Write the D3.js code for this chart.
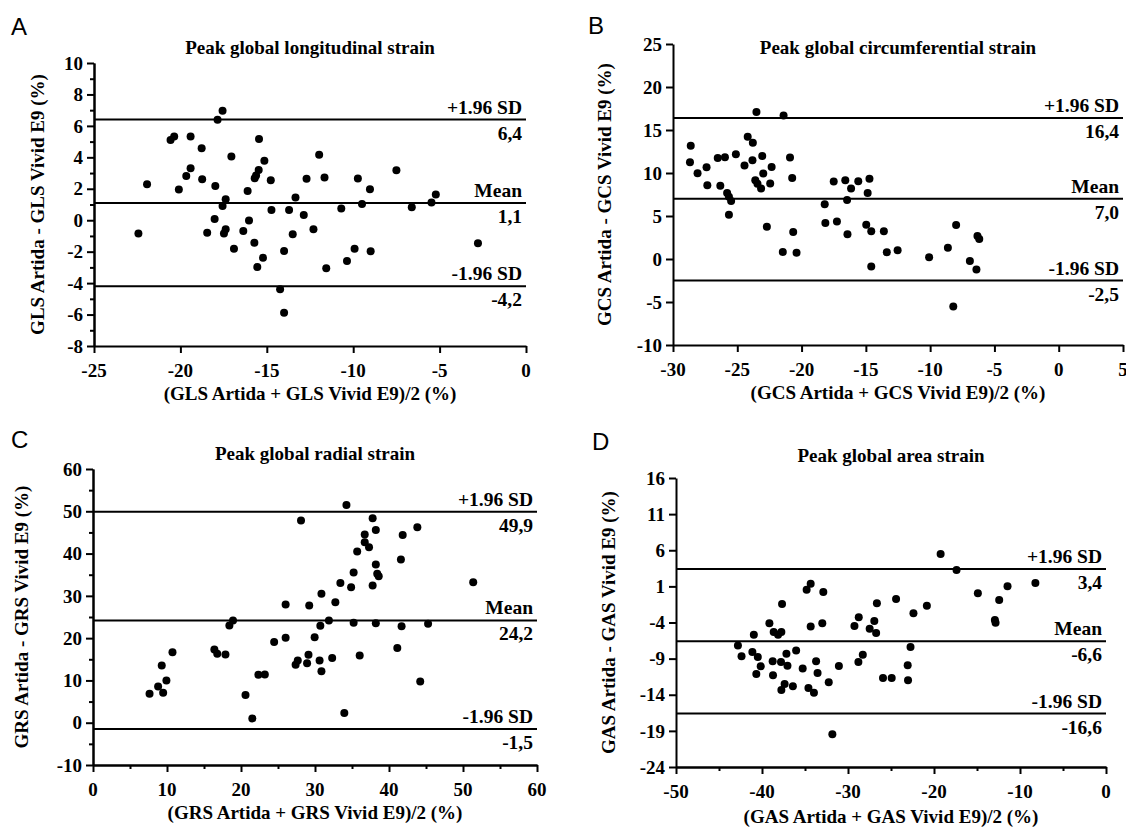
<!DOCTYPE html>
<html>
<head>
<meta charset="utf-8">
<script src="https://cdn.jsdelivr.net/npm/d3@7"></script>
<style>
  body { margin: 0; background: #fff; }
  text { font-family: "Liberation Serif", "Times New Roman", serif; font-weight: bold; fill: #000; }
</style>
</head>
<body>
<div id="target"></div>
<script>
// A - longitudinal strain
let glsAvg = [-22.43,-21.93,-20.57,-20.36,-20.09,-19.66,-19.41,-19.41,-18.77,-18.74,-18.45,-17.98,-18.02,-17.85,-17.56,-17.56,-17.38,-17.48,-17.38,-17.05,-16.9,-16.36,-16.11,-16.03,-15.72,-15.7,-15.62,-15.47,-15.45,-15.55,-15.22,-15.14,-14.77,-14.73,-14.23,-14.0,-14.0,-13.71,-13.5,-13.34,-12.86,-12.7,-12.3,-11.97,-11.66,-11.56,-10.69,-10.36,-9.92,-9.73,-9.49,-9.03,-8.99,-7.5,-6.61,-5.47,-5.22,-2.78];
let glsDiff = [-0.84,2.29,5.11,5.32,1.95,2.82,3.31,5.32,4.58,2.6,-0.79,2.18,0.08,6.39,6.96,0.91,1.33,-0.84,-0.58,4.05,-1.81,-0.69,1.86,-0.01,-1.43,2.67,2.84,3.2,5.16,-2.98,-2.39,3.79,2.54,0.65,-4.39,-1.96,-5.89,0.65,-0.9,1.44,0.33,2.63,-0.58,4.16,2.71,-3.05,0.74,-2.6,-1.81,2.65,1.03,1.97,-1.98,3.18,0.82,1.12,1.63,-1.47];
let glsLimits = [6.4, 1.1, -4.2];
let glsLimitText = ["6,4", "1,1", "-4,2"];
let glsXTicks = [-25, -20, -15, -10, -5, 0];
let glsYTicks = [10, 8, 6, 4, 2, 0, -2, -4, -6, -8];
let glsYMinor = [9, 7, 5, 3, 1, -1, -3, -5, -7];

// B - circumferential strain
let gcsAvg = [-28.62,-28.68,-28.09,-27.39,-27.33,-26.52,-26.32,-25.96,-25.79,-25.65,-25.48,-25.65,-25.11,-24.44,-24.19,-23.79,-23.82,-23.6,-23.51,-23.43,-23.15,-23.06,-22.98,-22.44,-22.33,-22.7,-21.46,-21.4,-20.9,-20.73,-20.65,-20.39,-18.2,-18.15,-17.5,-17.25,-16.6,-16.46,-16.43,-16.15,-15.59,-14.86,-14.72,-14.97,-14.58,-14.58,-13.6,-13.37,-12.53,-10.08,-8.62,-7.98,-8.2,-6.91,-6.4,-6.32,-6.18];
let gcsDiff = [13.18,11.25,9.97,10.67,8.58,11.75,8.51,11.83,7.66,7.23,6.73,5.15,12.18,10.86,14.22,13.53,11.48,9.16,17.08,8.74,8.2,11.98,9.94,8.78,10.71,3.76,0.82,16.7,11.79,9.43,3.14,0.74,6.38,4.18,9.01,4.37,9.16,6.85,2.87,8.2,9.05,7.66,9.32,3.99,3.22,-0.88,3.22,0.78,1.01,0.2,1.32,3.95,-5.51,-0.22,-1.23,2.67,2.33];
let gcsLimits = [16.4, 7.0, -2.5];
let gcsLimitText = ["16,4", "7,0", "-2,5"];
let gcsXTicks = [-30, -25, -20, -15, -10, -5, 0, 5];
let gcsYTicks = [25, 20, 15, 10, 5, 0, -5, -10];

// C - radial strain
let grsAvg = [7.64,8.8,9.29,9.48,9.92,10.74,16.4,16.79,17.9,18.43,18.92,20.61,21.53,22.35,23.22,24.48,26.03,26.03,27.38,27.67,28.11,28.93,29.12,29.22,29.95,30.62,30.72,30.87,30.87,31.88,32.32,32.75,33.43,33.96,34.25,34.88,35.22,35.22,35.7,36.04,36.72,36.72,37.3,37.79,37.79,38.22,38.22,38.22,38.41,38.61,41.12,41.61,41.7,41.85,43.83,44.22,45.28,51.38];
let grsDiff = [6.85,8.58,13.54,7.09,10.0,16.69,17.32,16.3,16.14,22.99,24.17,6.54,1.02,11.34,11.42,19.06,20.08,27.95,13.7,14.72,47.8,14.09,16.06,27.72,20.24,14.72,22.91,12.2,30.47,24.17,15.28,28.5,33.07,2.28,51.5,32.05,35.51,23.62,40.47,15.91,44.49,42.68,41.5,48.35,32.44,45.59,37.4,23.54,35.2,34.65,17.64,38.58,22.83,44.41,46.22,9.76,23.39,33.23];
let grsLimits = [49.9, 24.2, -1.5];
let grsLimitText = ["49,9", "24,2", "-1,5"];
let grsXTicks = [0, 10, 20, 30, 40, 50, 60];
let grsXMinor = [5, 15, 25, 35, 45, 55];
let grsYTicks = [60, 50, 40, 30, 20, 10, 0, -10];
let grsYMinor = [55, 45, 35, 25, 15, 5, -5];

// D - area strain
let gasAvg = [-42.8,-42.38,-41.12,-40.95,-40.66,-40.49,-40.15,-39.14,-38.76,-38.72,-38.64,-38.13,-37.75,-37.67,-37.79,-37.75,-37.37,-37.16,-37.04,-36.41,-36.03,-35.27,-34.81,-34.34,-34.34,-34.6,-33.96,-33.71,-33.54,-32.99,-32.87,-32.24,-31.82,-31.06,-29.25,-28.75,-28.79,-28.28,-27.48,-26.94,-26.73,-26.64,-25.93,-24.92,-24.41,-23.06,-23.02,-22.73,-22.39,-20.83,-19.23,-17.38,-14.9,-12.92,-12.84,-12.42,-11.45,-8.21];
let gasDiff = [-7.2,-8.68,-8.08,-5.68,-11.12,-8.77,-10.06,-4.11,-9.37,-11.31,-5.31,-5.68,-5.31,-1.44,-9.46,-13.34,-12.51,-8.31,-9.97,-12.83,-7.89,-10.38,0.55,1.38,-4.57,-13.06,-13.71,-9.37,-10.98,-4.11,0.23,-12.27,-19.47,-10.01,-4.48,-3.28,-9.46,-8.45,-4.85,-3.79,-5.45,-1.34,-11.68,-11.68,-0.74,-9.92,-12.0,-7.39,-2.73,-1.67,5.48,3.27,0.04,-3.65,-4.02,-0.88,1.01,1.47];
let gasLimits = [3.4, -6.6, -16.6];
let gasLimitText = ["3,4", "-6,6", "-16,6"];
let gasXTicks = [-50, -40, -30, -20, -10, 0];
let gasXMinor = [-45, -35, -25, -15, -5];
let gasYTicks = [16, 11, 6, 1, -4, -9, -14, -19, -24];

let limitNames = ["+1.96 SD", "Mean", "-1.96 SD"];

let svg = d3.select("#target").append("svg")
  .attr("width", 1126)
  .attr("height", 830);

function styleAxis(sel) {
  sel.select(".domain").attr("stroke", "#000").attr("stroke-width", 2);
  sel.selectAll(".tick line").attr("stroke", "#000").attr("stroke-width", 2);
  sel.selectAll(".tick text").remove();
}

function drawPanel(p) {
  let x = d3.scaleLinear().domain(p.xDomain).range([p.left, p.right]);
  let y = d3.scaleLinear().domain(p.yDomain).range([p.bottom, p.top]);
  let g = svg.append("g");

  if (p.xMinor) {
    g.append("g")
      .attr("transform", "translate(0," + p.bottom + ")")
      .call(d3.axisBottom(x).tickValues(p.xMinor).tickSize(4).tickSizeOuter(0))
      .call(styleAxis);
  }
  if (p.yMinor) {
    g.append("g")
      .attr("transform", "translate(" + p.left + ",0)")
      .call(d3.axisLeft(y).tickValues(p.yMinor).tickSize(4).tickSizeOuter(0))
      .call(styleAxis);
  }

  g.append("g")
    .attr("transform", "translate(0," + p.bottom + ")")
    .call(d3.axisBottom(x).tickValues(p.xTicks).tickSize(7).tickSizeOuter(0))
    .call(styleAxis);

  g.append("g")
    .attr("transform", "translate(" + p.left + ",0)")
    .call(d3.axisLeft(y).tickValues(p.yTicks).tickSize(7).tickSizeOuter(0))
    .call(styleAxis);

  // tick labels in the figure's bold serif
  g.selectAll("text.xtick")
    .data(p.xTicks)
    .enter().append("text")
    .attr("class", "xtick")
    .attr("x", d => x(d))
    .attr("y", p.bottom + 31)
    .attr("text-anchor", "middle")
    .style("font-size", "19px")
    .text(d => String(d));

  g.selectAll("text.ytick")
    .data(p.yTicks)
    .enter().append("text")
    .attr("class", "ytick")
    .attr("x", p.left - 11)
    .attr("y", d => y(d))
    .attr("dy", "0.35em")
    .attr("text-anchor", "end")
    .style("font-size", "19px")
    .text(d => String(d));

  // limits of agreement
  g.selectAll("line.limit")
    .data(p.limits)
    .enter().append("line")
    .attr("class", "limit")
    .attr("x1", p.left)
    .attr("x2", p.right)
    .attr("y1", d => y(d))
    .attr("y2", d => y(d))
    .attr("stroke", "#000")
    .attr("stroke-width", 2);

  g.selectAll("text.limname")
    .data(p.limits)
    .enter().append("text")
    .attr("class", "limname")
    .attr("x", p.right - 4)
    .attr("y", d => y(d) - 6)
    .attr("text-anchor", "end")
    .style("font-size", "19.5px")
    .text((d, i) => limitNames[i]);

  g.selectAll("text.limval")
    .data(p.limits)
    .enter().append("text")
    .attr("class", "limval")
    .attr("x", p.right - 4)
    .attr("y", d => y(d) + 20)
    .attr("text-anchor", "end")
    .style("font-size", "19.5px")
    .text((d, i) => p.limitText[i]);

  g.selectAll("circle")
    .data(p.xs)
    .enter().append("circle")
    .attr("cx", d => x(d))
    .attr("cy", (d, i) => y(p.ys[i]))
    .attr("r", 4)
    .attr("fill", "#000");

  g.append("text")
    .attr("x", (p.left + p.right) / 2)
    .attr("y", p.titleY)
    .attr("text-anchor", "middle")
    .style("font-size", "19px")
    .text(p.title);

  g.append("text")
    .attr("x", (p.left + p.right) / 2)
    .attr("y", p.bottom + p.xLabelGap)
    .attr("text-anchor", "middle")
    .style("font-size", "19px")
    .text(p.xLabel);

  g.append("text")
    .attr("transform", "translate(" + p.yLabelX + "," + (p.top + p.bottom) / 2 + ") rotate(-90)")
    .attr("text-anchor", "middle")
    .attr("dy", "0.35em")
    .style("font-size", "19px")
    .text(p.yLabel);

  g.append("text")
    .attr("x", p.letterX)
    .attr("y", p.letterY)
    .style("font-family", "'Liberation Sans', Arial, sans-serif")
    .style("font-weight", "normal")
    .style("font-size", "24px")
    .text(p.letter);
}

drawPanel({
  letter: "A", letterX: 11, letterY: 35,
  left: 94, right: 526, top: 63, bottom: 346,
  xDomain: [-25, 0], yDomain: [-8, 10],
  xTicks: glsXTicks, yTicks: glsYTicks, yMinor: glsYMinor,
  xs: glsAvg, ys: glsDiff, limits: glsLimits, limitText: glsLimitText,
  title: "Peak global longitudinal strain", titleY: 54,
  xLabel: "(GLS Artida + GLS Vivid E9)/2 (%)", xLabelGap: 54,
  yLabel: "GLS Artida - GLS Vivid E9 (%)", yLabelX: 37
});

drawPanel({
  letter: "B", letterX: 588, letterY: 34,
  left: 673, right: 1123, top: 44, bottom: 345,
  xDomain: [-30, 5], yDomain: [-10, 25],
  xTicks: gcsXTicks, yTicks: gcsYTicks,
  xs: gcsAvg, ys: gcsDiff, limits: gcsLimits, limitText: gcsLimitText,
  title: "Peak global circumferential strain", titleY: 54,
  xLabel: "(GCS Artida + GCS Vivid E9)/2 (%)", xLabelGap: 54,
  yLabel: "GCS Artida - GCS Vivid E9 (%)", yLabelX: 604
});

drawPanel({
  letter: "C", letterX: 11, letterY: 448,
  left: 93, right: 537, top: 469, bottom: 765,
  xDomain: [0, 60], yDomain: [-10, 60],
  xTicks: grsXTicks, xMinor: grsXMinor, yTicks: grsYTicks, yMinor: grsYMinor,
  xs: grsAvg, ys: grsDiff, limits: grsLimits, limitText: grsLimitText,
  title: "Peak global radial strain", titleY: 460,
  xLabel: "(GRS Artida + GRS Vivid E9)/2 (%)", xLabelGap: 54,
  yLabel: "GRS Artida - GRS Vivid E9 (%)", yLabelX: 21
});

drawPanel({
  letter: "D", letterX: 592, letterY: 450,
  left: 676, right: 1106, top: 478, bottom: 767,
  xDomain: [-50, 0], yDomain: [-24, 16],
  xTicks: gasXTicks, xMinor: gasXMinor, yTicks: gasYTicks,
  xs: gasAvg, ys: gasDiff, limits: gasLimits, limitText: gasLimitText,
  title: "Peak global area strain", titleY: 462,
  xLabel: "(GAS Artida + GAS Vivid E9)/2 (%)", xLabelGap: 56,
  yLabel: "GAS Artida - GAS Vivid E9 (%)", yLabelX: 608
});
</script>
</body>
</html>
